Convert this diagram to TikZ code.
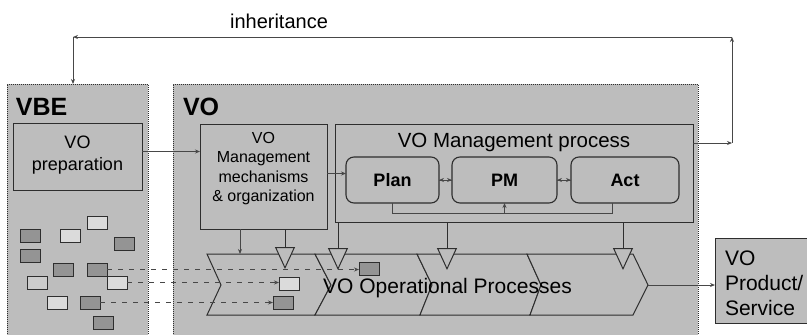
\documentclass[tikz,border=0pt]{standalone}
\usepackage{fontspec}
\setmainfont{Liberation Sans}
\usetikzlibrary{arrows.meta,calc}
\definecolor{bgc}{gray}{0.74}
\definecolor{darkc}{gray}{0.58}
\definecolor{lightc}{gray}{0.86}
\definecolor{midc}{gray}{0.8}
\definecolor{lnc}{gray}{0.18}
\definecolor{conc}{gray}{0.28}
\newcommand\myfs[2]{\fontsize{#1}{#2}\selectfont}
\tikzset{
  outerbox/.style={draw=lnc, dash pattern=on 1pt off 1pt, line width=0.9pt, fill=bgc, inner sep=0pt, outer sep=0pt, anchor=north west},
  rbox/.style={draw=lnc, line width=0.8pt, fill=bgc, inner sep=0pt, outer sep=0pt, anchor=north west},
  pbox/.style={rbox, rounded corners=8pt, line width=1.1pt},
  sbox/.style={draw=lnc, line width=0.8pt, minimum width=20pt, minimum height=13pt, inner sep=0pt, outer sep=0pt, anchor=north west},
  darkb/.style={sbox, fill=darkc},
  lightb/.style={sbox, fill=lightc},
  midb/.style={sbox, fill=midc},
  conn/.style={draw=conc, line width=1pt, -{Stealth[length=5pt,width=4pt]}},
  plainl/.style={draw=conc, line width=1pt},
  dashconn/.style={conn, dash pattern=on 5pt off 6pt},
  bigarr/.style={draw=lnc, line width=1pt, -{Triangle[width=20pt,length=22pt,fill=bgc]}},
  chev/.style={draw=lnc, line width=1pt, fill=bgc},
  txt/.style={inner sep=0pt, outer sep=0pt, text=black},
}
\begin{document}
\begin{tikzpicture}[x=1pt,y=-1pt]
\useasboundingbox (0,0) rectangle (807,335);
\clip (0,0) rectangle (807,335);
\fill[white] (0,0) rectangle (807,335);

% outer boxes
\node[outerbox, minimum width=141pt, minimum height=265pt] (vbe) at (7,84) {};
\node[outerbox, minimum width=525pt, minimum height=265pt] (vo) at (173,84) {};
\node[txt, anchor=base west, font=\bfseries\myfs{25}{28}] (vbel) at (16,115) {VBE};
\node[txt, anchor=base west, font=\bfseries\myfs{25}{28}] (vol) at (183,115) {VO};

% inner boxes
\node[rbox, minimum width=129pt, minimum height=67pt] (prep) at (13,123) {};
\node[txt, align=center, font=\myfs{18}{22}] (prept) at (77.5,155) {VO\\preparation};
\node[rbox, minimum width=127pt, minimum height=105pt] (mech) at (200,124) {};
\node[txt, align=center, font=\myfs{16}{19.5}] (mecht) at (263.5,168.5) {VO\\Management\\mechanisms\\\& organization};
\node[rbox, minimum width=358pt, minimum height=98pt] (mgmt) at (335,124) {};
\node[txt, anchor=base, font=\myfs{20.5}{24}] (mgmtt) at (514,147) {VO Management process};
\node[pbox, minimum width=93pt, minimum height=46pt] (plan) at (346,157) {};
\node[pbox, minimum width=105pt, minimum height=46pt] (pm) at (452,157) {};
\node[pbox, minimum width=108pt, minimum height=46pt] (act) at (571,157) {};
\node[txt, font=\bfseries\myfs{18}{22}] (plant) at (plan.center) {Plan};
\node[txt, font=\bfseries\myfs{18}{22}] (pmt) at (pm.center) {PM};
\node[txt, font=\bfseries\myfs{18}{22}] (actt) at (act.center) {Act};

% product box
\node[rbox, minimum width=100pt, minimum height=85pt] (prod) at (715,238) {};
\node[txt, align=left, anchor=west, font=\myfs{21}{25}] (prodt) at (725,283) {VO\\Product/\\Service};

% chevrons
\draw[chev] (207,254) -- (315,254) -- (331,285) -- (315,315) -- (207,315) -- (221,285) -- cycle;
\draw[chev] (315,254) -- (417,254) -- (432,285) -- (420,315) -- (315,315) -- (331,285) -- cycle;
\draw[chev] (417,254) -- (527,254) -- (541,285) -- (530,315) -- (420,315) -- (432,285) -- cycle;
\draw[chev] (527,254) -- (633,254) -- (648,285) -- (633,315) -- (530,315) -- (541,285) -- cycle;
\coordinate (optip) at (648,285);
\node[txt, anchor=base, font=\myfs{21}{25}] (opt) at (447.5,293) {VO Operational Processes};

% small boxes in VBE
\node[lightb] (s1) at (87,216) {};
\node[darkb] (s2) at (20,229) {};
\node[lightb] (s3) at (60,229) {};
\node[darkb] (s4) at (114,237) {};
\node[darkb] (s5) at (20,249) {};
\node[darkb] (s6) at (53,263) {};
\node[darkb] (s7) at (87,263) {};
\node[lightb] (s8) at (107,276) {};
\node[midb] (s9) at (27,276) {};
\node[lightb] (s10) at (47,296) {};
\node[darkb] (s11) at (80,296) {};
\node[darkb] (s12) at (93,316) {};
% small boxes in operational processes
\node[darkb] (t1) at (359,262) {};
\node[lightb] (t2) at (279,277) {};
\node[darkb] (t3) at (273,296) {};

\draw[dashconn] (s7.east) -- (s7.east -| t1.west);
\draw[dashconn] (s8.east) -- (s8.east -| t2.west);
\draw[dashconn] (s11.east) -- (s11.east -| t3.west);

% connectors
\draw[conn] ([yshift=5pt]prep.east) -- ([yshift=5pt]prep.east -| mech.west);
\draw[conn] ([yshift=3pt]mech.east) -- ([yshift=3pt]mech.east -| plan.west);
\draw[conn] (plan.east) -- (pm.west);
\draw[conn] (pm.west) -- (plan.east);
\draw[conn] (pm.east) -- (act.west);
\draw[conn] (act.west) -- (pm.east);

\coordinate (fa) at (392.5,213);
\coordinate (fb) at (612,213);
\coordinate (fc) at (504.5,213);
\draw[plainl] (plan.south -| fa) -- (fa) -- (fb) -- (fb |- act.south);
\draw[conn] (fc) -- (fc |- pm.south);

% arrows into operational processes
\coordinate (d1) at (240,254);
\coordinate (d2) at (285,269);
\coordinate (d3) at (338,270);
\coordinate (d4) at (447,270);
\coordinate (d5) at (623,270);
\draw[conn] (d1 |- mech.south) -- (d1);
\draw[bigarr] (d2 |- mech.south) -- (d2);
\draw[bigarr] (d3 |- mgmt.south) -- (d3);
\draw[bigarr] (d4 |- mgmt.south) -- (d4);
\draw[bigarr] (d5 |- mgmt.south) -- (d5);

% output
\draw[conn] (optip) -- (optip -| prod.west);

% inheritance
\coordinate (i1) at (732,143);
\coordinate (i2) at (732,37);
\coordinate (i3) at (73,37);
\draw[conn] (i1 -| mgmt.east) -- (i1);
\draw[conn] (i1) -- (i2);
\draw[conn] (i2) -- (i3);
\draw[conn] (i3) -- (i3 |- vbe.north);
\node[txt, anchor=base, font=\myfs{20}{24}] (inh) at (279,28) {inheritance};
\end{tikzpicture}
\end{document}
